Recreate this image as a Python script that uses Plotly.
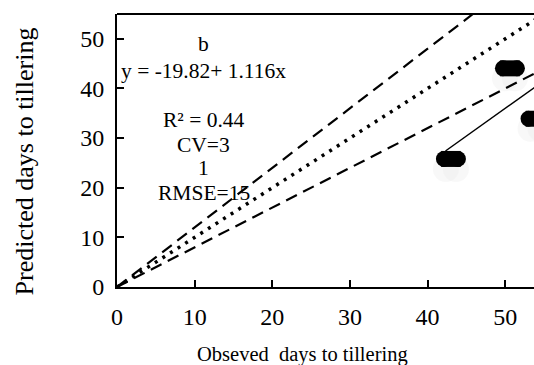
import plotly.graph_objects as go

# observed / predicted points
obs = [43.0, 50.6, 53.9]
pred = [25.8, 44.05, 33.9]

# reference lines: 1:1 line and +/-20 % lines
line_x = [0, 55]
one_to_one_y = [0, 55]
upper_y = [0, 66]
lower_y = [0, 44]

# fitted regression line (y = -19.82 + 1.116x)
fit_x = [42.3, 56]
fit_y = [27.4, 42.7]

x_ticks = [0, 10, 20, 30, 40, 50]
y_ticks = [0, 10, 20, 30, 40, 50]
y_tick_labels = ["0", "10", "20", "30", "40", "50"]

FONT = "Liberation Serif, Times New Roman, serif"

fig = go.Figure()

px_x = 1 / 7.76   # data units per pixel (x)
px_y = 1 / 4.96   # data units per pixel (y)

# soft shadows under points
fig.add_trace(go.Scatter(
    x=[v for o in obs for v in (o - 5 * px_x, o + 5 * px_x)],
    y=[p - 10 * px_y for p in pred for _ in (0, 1)],
    mode="markers",
    marker=dict(size=26, color="rgba(235,235,235,0.35)", line=dict(width=0)),
    hoverinfo="skip", showlegend=False))

fig.add_trace(go.Scatter(x=line_x, y=upper_y, mode="lines",
                         line=dict(color="black", width=2.2, dash="12px,7px"),
                         showlegend=False))
fig.add_trace(go.Scatter(x=line_x, y=lower_y, mode="lines",
                         line=dict(color="black", width=2.2, dash="12px,7px"),
                         showlegend=False))
fig.add_trace(go.Scatter(x=line_x, y=one_to_one_y, mode="lines",
                         line=dict(color="black", width=3.5, dash="3px,6px"),
                         showlegend=False))
fig.add_trace(go.Scatter(x=fit_x, y=fit_y, mode="lines",
                         line=dict(color="black", width=1.5),
                         showlegend=False))

# pill-shaped markers: a thick horizontal bar with round ends
fig.add_trace(go.Scatter(
    x=obs, y=pred, mode="markers",
    marker=dict(symbol="line-ew", size=14, color="black",
                line=dict(width=16, color="black")),
    showlegend=False))
for off in (-7, 7):
    fig.add_trace(go.Scatter(
        x=[o + off * px_x for o in obs], y=pred, mode="markers",
        marker=dict(size=16, color="black", line=dict(width=0)),
        showlegend=False))

ann = [
    ("b", 48.9),
    ("y = -19.82+ 1.116x", 43.6),
    ("R² = 0.44", 33.7),
    ("CV=3", 28.7),
    ("1", 24.0),
    ("RMSE=15", 19.0),
]
for txt, yy in ann:
    fig.add_annotation(x=11.2, y=yy, xref="x", yref="y", text=txt,
                       showarrow=False, font=dict(family=FONT, size=21.5, color="black"))

# axis titles
fig.add_annotation(x=-0.223, y=0.46, xref="paper", yref="paper", textangle=-90,
                   xanchor="center", yanchor="middle",
                   text="Predicted days to tillering", showarrow=False,
                   font=dict(family=FONT, size=26, color="black"))
fig.add_annotation(x=0.446, y=-0.249, xref="paper", yref="paper",
                   xanchor="center", yanchor="middle",
                   text="Obseved  days to tillering", showarrow=False,
                   font=dict(family=FONT, size=20.5, color="black"))

fig.add_shape(type="line", xref="paper", yref="paper", x0=0, x1=1, y0=1, y1=1,
              line=dict(color="black", width=2))

fig.update_layout(
    width=534, height=365,
    margin=dict(l=117, r=0, t=14, b=78),
    paper_bgcolor="white", plot_bgcolor="white",
    font=dict(family=FONT, color="black", size=24),
    xaxis=dict(range=[0, 53.7], tickvals=x_ticks, ticks="inside", ticklen=7,
               tickwidth=1.5, tickcolor="black", showline=True, linecolor="black",
               linewidth=2, showgrid=False, zeroline=False,
               tickfont=dict(family=FONT, size=24), ticklabelstandoff=7),
    yaxis=dict(range=[0, 55], tickvals=y_ticks,
               ticktext=[t + "\u00a0" for t in y_tick_labels],
               ticks="inside", ticklen=7,
               tickwidth=1.5, tickcolor="black", showline=True, linecolor="black",
               linewidth=2, showgrid=False, zeroline=False,
               tickfont=dict(family=FONT, size=24)),
)

fig.write_html("out.html")
